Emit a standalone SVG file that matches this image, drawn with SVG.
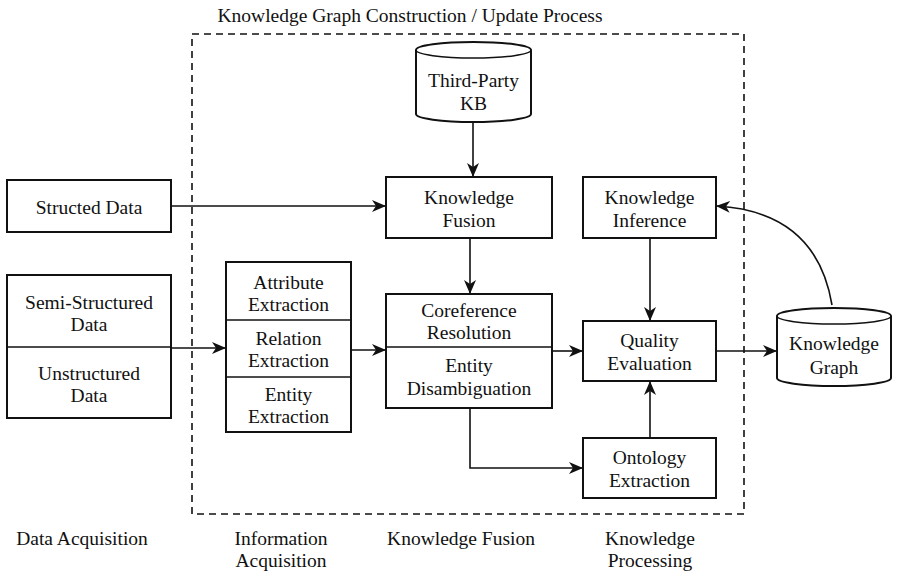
<svg xmlns="http://www.w3.org/2000/svg" width="898" height="577" viewBox="0 0 898 577">
<style>
text{font-family:"Liberation Serif","Times New Roman",serif;font-size:19.5px;fill:#111;text-anchor:middle;dominant-baseline:central}
.box{fill:#fff;stroke:#111;stroke-width:2}
.div{stroke:#111;stroke-width:1.5;fill:none}
.con{stroke:#111;stroke-width:1.6;fill:none}
.dash{fill:none;stroke:#111;stroke-width:1.6;stroke-dasharray:7 5}
</style>
<defs>
<marker id="ah" markerWidth="14" markerHeight="12" viewBox="0 0 14 12" refX="13" refY="6" orient="auto" markerUnits="userSpaceOnUse">
<path d="M0,0 L14,6 L0,12 L4,6 Z" fill="#111"/>
</marker>
</defs>
<rect width="898" height="577" fill="#fff"/>
<text x="410" y="15">Knowledge Graph Construction / Update Process</text>
<rect class="dash" x="192" y="34" width="552" height="480"/>

<g id="connectors">
<path class="con" d="M473,122 V176" marker-end="url(#ah)"/>
<path class="con" d="M171,206 H385" marker-end="url(#ah)"/>
<path class="con" d="M470,238 V293" marker-end="url(#ah)"/>
<path class="con" d="M171,348 H225" marker-end="url(#ah)"/>
<path class="con" d="M351,350 H385" marker-end="url(#ah)"/>
<path class="con" d="M552,351 H582" marker-end="url(#ah)"/>
<path class="con" d="M650,238 V320" marker-end="url(#ah)"/>
<path class="con" d="M650,438 V382" marker-end="url(#ah)"/>
<path class="con" d="M470,408 V468 H582" marker-end="url(#ah)"/>
<path class="con" d="M716,351 H776" marker-end="url(#ah)"/>
<path class="con" d="M832,305 C822,245 785,210 717,206" marker-end="url(#ah)"/>
</g>

<g id="thirdparty">
<path class="box" d="M416,50 A57.5,8 0 0 1 531,50 V114 A57.5,8 0 0 1 416,114 Z"/>
<path class="div" d="M416,50 A57.5,8 0 0 0 531,50"/>
<text x="473.5" y="80">Third-Party</text>
<text x="473.5" y="103">KB</text>
</g>

<g id="structed">
<rect class="box" x="7" y="180" width="164" height="52"/>
<text x="89" y="207">Structed Data</text>
</g>

<g id="semiunstructured">
<rect class="box" x="7" y="275" width="164" height="143"/>
<line class="div" x1="7" y1="347" x2="171" y2="347"/>
<text x="89" y="302">Semi-Structured</text>
<text x="89" y="324">Data</text>
<text x="89" y="373">Unstructured</text>
<text x="89" y="395">Data</text>
</g>

<g id="extraction">
<rect class="box" x="226" y="262" width="125" height="170"/>
<line class="div" x1="226" y1="320" x2="351" y2="320"/>
<line class="div" x1="226" y1="377" x2="351" y2="377"/>
<text x="288.5" y="282">Attribute</text>
<text x="288.5" y="304">Extraction</text>
<text x="288.5" y="338">Relation</text>
<text x="288.5" y="360">Extraction</text>
<text x="288.5" y="394">Entity</text>
<text x="288.5" y="416">Extraction</text>
</g>

<g id="fusion">
<rect class="box" x="386" y="177" width="166" height="61"/>
<text x="469" y="197">Knowledge</text>
<text x="469" y="220">Fusion</text>
</g>

<g id="coref">
<rect class="box" x="386" y="294" width="166" height="114"/>
<line class="div" x1="386" y1="347" x2="552" y2="347"/>
<text x="469" y="310">Coreference</text>
<text x="469" y="332">Resolution</text>
<text x="469" y="365">Entity</text>
<text x="469" y="388">Disambiguation</text>
</g>

<g id="inference">
<rect class="box" x="583" y="177" width="133" height="61"/>
<text x="649.5" y="197">Knowledge</text>
<text x="649.5" y="220">Inference</text>
</g>

<g id="quality">
<rect class="box" x="583" y="321" width="133" height="60"/>
<text x="649.5" y="340">Quality</text>
<text x="649.5" y="363">Evaluation</text>
</g>

<g id="ontology">
<rect class="box" x="583" y="438" width="133" height="60"/>
<text x="649.5" y="457">Ontology</text>
<text x="649.5" y="480">Extraction</text>
</g>

<g id="kg">
<path class="box" d="M777,316 A57,8 0 0 1 891,316 V378 A57,8 0 0 1 777,378 Z"/>
<path class="div" d="M777,316 A57,8 0 0 0 891,316"/>
<text x="834" y="343">Knowledge</text>
<text x="834" y="367">Graph</text>
</g>

<g id="labels">
<text x="82" y="538">Data Acquisition</text>
<text x="281" y="538">Information</text>
<text x="281" y="560">Acquisition</text>
<text x="461" y="538">Knowledge Fusion</text>
<text x="650" y="538">Knowledge</text>
<text x="650" y="560">Processing</text>
</g>
</svg>
